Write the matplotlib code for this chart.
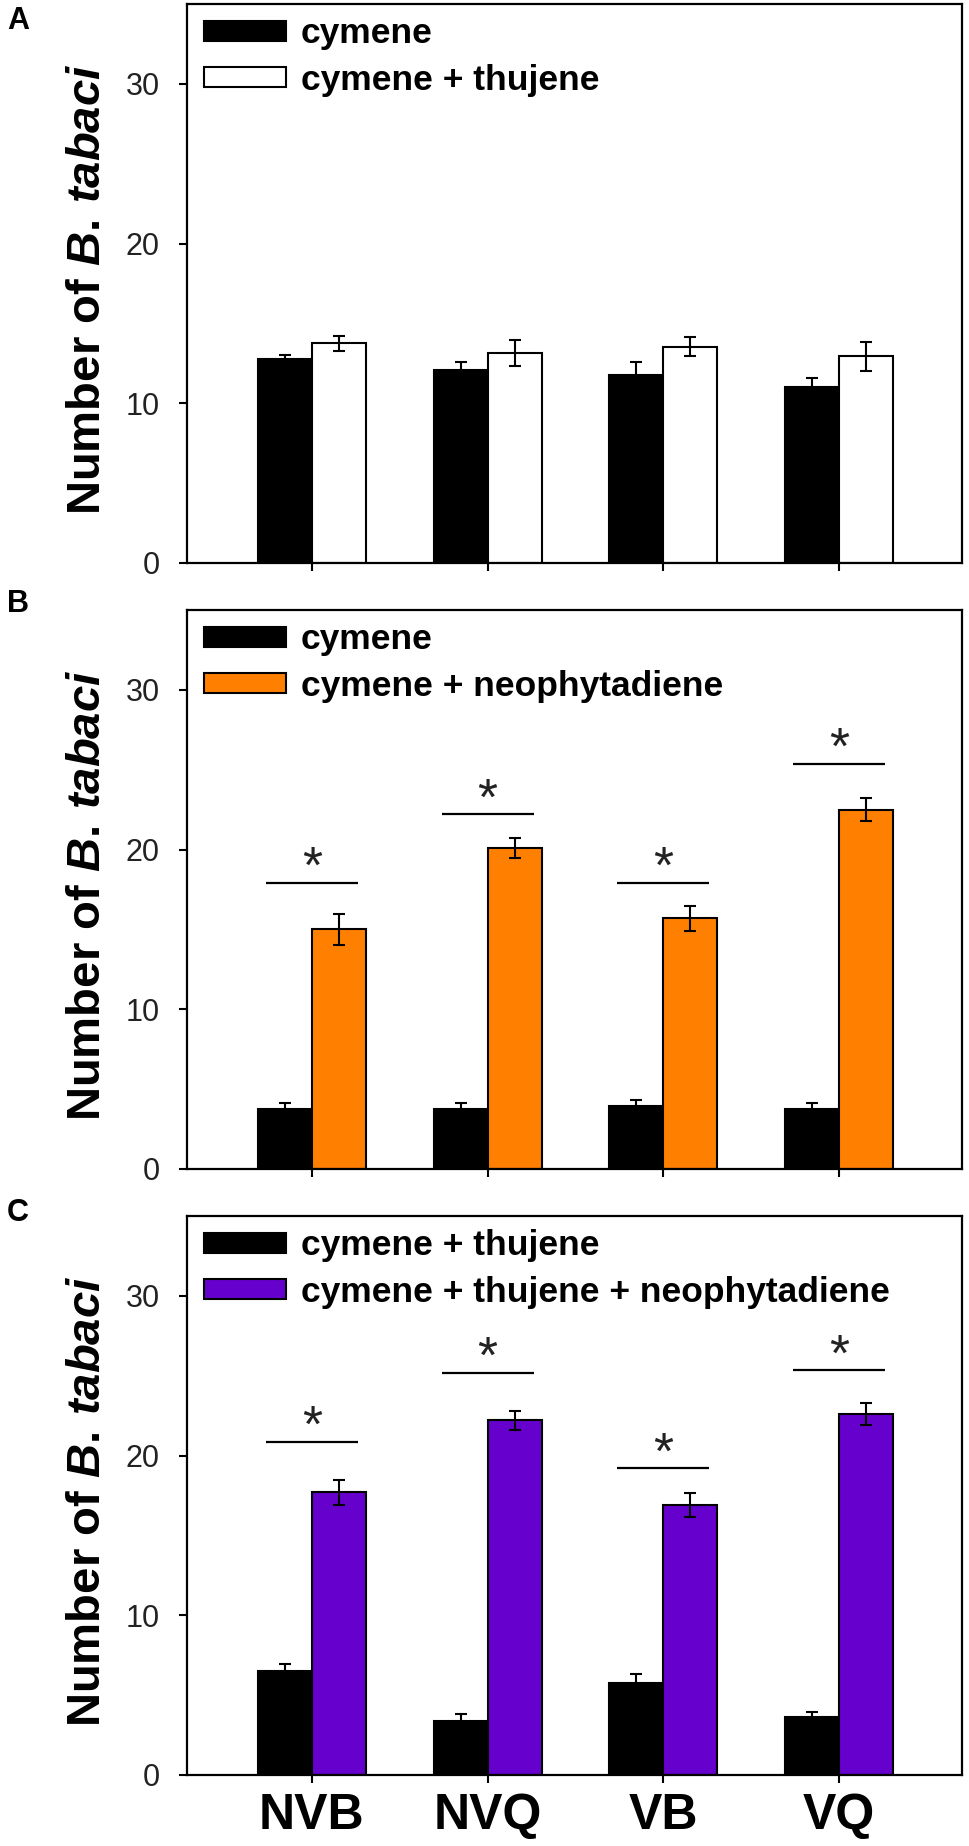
import matplotlib
matplotlib.use('Agg')
import matplotlib.pyplot as plt
from matplotlib.patches import Patch
import numpy as np

plt.rcParams['font.family'] = ['Liberation Sans', 'DejaVu Sans']
plt.rcParams['mathtext.fontset'] = 'custom'
plt.rcParams['mathtext.it'] = 'Liberation Sans:italic:bold'
plt.rcParams['mathtext.rm'] = 'Liberation Sans:bold'

# ---------------- data ----------------
groups = ['NVB', 'NVQ', 'VB', 'VQ']

a_labels = ['cymene', 'cymene + thujene']
a_ctrl = [12.8, 12.1, 11.8, 11.0]
a_ctrl_err = [0.2, 0.5, 0.8, 0.57]
a_trt = [13.75, 13.15, 13.55, 12.95]
a_trt_err = [0.45, 0.8, 0.58, 0.9]
a_sig = []

b_labels = ['cymene', 'cymene + neophytadiene']
b_ctrl = [3.76, 3.76, 3.97, 3.78]
b_ctrl_err = [0.35, 0.35, 0.35, 0.35]
b_trt = [15.0, 20.1, 15.7, 22.5]
b_trt_err = [0.95, 0.6, 0.78, 0.7]
b_sig = [17.9, 22.2, 17.9, 25.35]

c_labels = ['cymene + thujene', 'cymene + thujene + neophytadiene']
c_ctrl = [6.53, 3.40, 5.78, 3.61]
c_ctrl_err = [0.4, 0.4, 0.56, 0.36]
c_trt = [17.7, 22.2, 16.9, 22.6]
c_trt_err = [0.8, 0.6, 0.75, 0.7]
c_sig = [20.85, 25.2, 19.2, 25.34]

yticks = [0, 10, 20, 30]
panel_letters = ['A', 'B', 'C']

# ---------------- layout ----------------
W, H = 970, 1846
fig = plt.figure(figsize=(W / 100, H / 100), dpi=100)

ax_left, ax_w, ax_h = 187, 775, 559
ax_bottoms = [563, 1169, 1775]
letter_y = [21, 604, 1213]

panels = [
    (a_labels, a_ctrl, a_ctrl_err, a_trt, a_trt_err, a_sig, 'white'),
    (b_labels, b_ctrl, b_ctrl_err, b_trt, b_trt_err, b_sig, '#FF8000'),
    (c_labels, c_ctrl, c_ctrl_err, c_trt, c_trt_err, c_sig, '#6600CC'),
]

w = 0.307
x = np.arange(1, len(groups) + 1)

for i, (labels, ctrl, ctrl_err, trt, trt_err, sig, col) in enumerate(panels):
    ax = fig.add_axes([ax_left / W, 1 - ax_bottoms[i] / H, ax_w / W, ax_h / H])
    ax.bar(x - w, ctrl, width=w, align='edge', color='black', edgecolor='black',
           linewidth=1.5, zorder=2)
    ax.bar(x, trt, width=w, align='edge', color=col, edgecolor='black',
           linewidth=1.5, zorder=2)
    ax.errorbar(x - w / 2, ctrl, yerr=ctrl_err, fmt='none', ecolor='black',
                elinewidth=1.5, capsize=4, capthick=1.5, zorder=3)
    ax.errorbar(x + w / 2, trt, yerr=trt_err, fmt='none', ecolor='black',
                elinewidth=1.5, capsize=4, capthick=1.5, zorder=3)

    for xi, sy in zip(x[:len(sig)], sig):
        ax.hlines(sy, xi - 0.262, xi + 0.262, color='black', lw=1.6, zorder=3)
        ax.text(xi, sy, '*', ha='center', va='baseline', fontsize=37, color='#222222')

    ax.set_xlim(0.289, 4.70)
    ax.set_ylim(0, 35)
    ax.set_yticks(yticks)
    ax.set_xticks(x)
    for s in ax.spines.values():
        s.set_linewidth(1.6)
    ax.tick_params(axis='both', direction='out', length=5.8, width=1.5,
                   top=False, right=False)
    ax.tick_params(axis='y', labelsize=22, pad=14, labelcolor='#222222')
    if i == 2:
        ax.set_xticklabels(groups, fontsize=36, fontweight='bold')
        ax.tick_params(axis='x', pad=7)
    else:
        ax.set_xticklabels([])

    ax.set_ylabel(r'Number of $\mathit{B.\,tabaci}$', fontsize=34,
                  fontweight='bold')
    ax.yaxis.set_label_coords(-0.0994, 0.49)

    handles = [Patch(facecolor='black', edgecolor='black', linewidth=1.5),
               Patch(facecolor=col, edgecolor='black', linewidth=1.5)]
    ax.legend(handles, labels, loc='upper left', bbox_to_anchor=(0.022, 0.976),
              frameon=False, prop={'weight': 'bold', 'size': 25.5},
              handlelength=2.3, handleheight=0.47, handletextpad=0.43,
              labelspacing=0.37, borderpad=0, borderaxespad=0)

    fig.text(7 / W, 1 - letter_y[i] / H, panel_letters[i], fontsize=22,
             fontweight='bold', ha='left', va='center')

fig.savefig('out.png', dpi=100)
